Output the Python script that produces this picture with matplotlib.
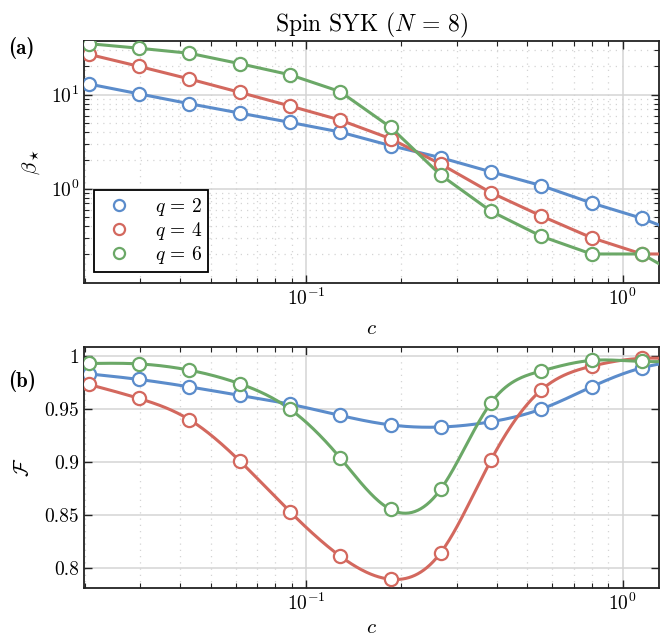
import numpy as np
import matplotlib
matplotlib.use("Agg")
import matplotlib.pyplot as plt
from matplotlib.lines import Line2D
from matplotlib.ticker import LogLocator, FixedLocator, FuncFormatter, NullFormatter

plt.rcParams['font.family'] = 'serif'
plt.rcParams['font.serif'] = ['cmr10', 'DejaVu Serif']
plt.rcParams['mathtext.fontset'] = 'cm'
plt.rcParams['axes.formatter.use_mathtext'] = True
plt.rcParams['axes.unicode_minus'] = False

# ---- data ----
c_vals = [0.0206, 0.0297, 0.0428, 0.0617, 0.0889, 0.128, 0.185, 0.266,
          0.384, 0.553, 0.797, 1.15, 1.65]
labels = [r'$q\,=\,2$', r'$q\,=\,4$', r'$q\,=\,6$']
colors = ['#5B8CCB', '#D3685E', '#6BA867']

beta_q2 = [13.0, 10.2, 8.02, 6.38, 5.08, 4.01, 2.87, 2.14, 1.51, 1.08, 0.705, 0.484, 0.30]
beta_q4 = [26.9, 20.0, 14.7, 10.6, 7.59, 5.38, 3.40, 1.83, 0.906, 0.513, 0.301, 0.202, 0.202]
beta_q6 = [34.9, 31.2, 27.6, 21.4, 16.3, 10.8, 4.50, 1.40, 0.575, 0.312, 0.202, 0.202, 0.101]

F_q2 = [0.9833, 0.978, 0.971, 0.963, 0.9546, 0.944, 0.935, 0.933, 0.938, 0.950, 0.971, 0.989, 0.997]
F_q4 = [0.9733, 0.960, 0.940, 0.901, 0.853, 0.811, 0.789, 0.814, 0.902, 0.968, 0.9905, 0.998, 0.996]
F_q6 = [0.9931, 0.9927, 0.9868, 0.974, 0.950, 0.904, 0.855, 0.874, 0.956, 0.986, 0.996, 0.995, 0.996]

beta_series = [beta_q2, beta_q4, beta_q6]
F_series = [F_q2, F_q4, F_q6]


def natural_spline(x, y, xq):
    x = np.asarray(x, float); y = np.asarray(y, float)
    n = len(x)
    h = np.diff(x)
    A = np.zeros((n, n)); r = np.zeros(n)
    A[0, 0] = 1; A[-1, -1] = 1
    for i in range(1, n - 1):
        A[i, i - 1] = h[i - 1]
        A[i, i] = 2 * (h[i - 1] + h[i])
        A[i, i + 1] = h[i]
        r[i] = 3 * ((y[i + 1] - y[i]) / h[i] - (y[i] - y[i - 1]) / h[i - 1])
    cc = np.linalg.solve(A, r)
    b = (y[1:] - y[:-1]) / h - h * (2 * cc[:-1] + cc[1:]) / 3
    d = (cc[1:] - cc[:-1]) / (3 * h)
    idx = np.clip(np.searchsorted(x, xq) - 1, 0, n - 2)
    dx = xq - x[idx]
    return y[idx] + b[idx] * dx + cc[idx] * dx ** 2 + d[idx] * dx ** 3


fig = plt.figure(figsize=(6.67, 6.40), dpi=100)
ax1 = fig.add_axes([0.126, 0.5583, 0.862, 0.3772])
ax2 = fig.add_axes([0.126, 0.0817, 0.862, 0.3766])

xlim = (0.0199, 1.302)
lw = 2.2
ms = 9.5
mew = 1.6

for ys, col in zip(beta_series, colors):
    ax1.plot(c_vals, ys, '-', color=col, lw=lw, zorder=3)
    ax1.plot(c_vals, ys, 'o', color=col, mfc='white', mec=col, ms=ms, mew=mew, zorder=4)

lx = np.log10(c_vals)
xq = np.linspace(lx[0], lx[-1], 600)
for ys, col in zip(F_series, colors):
    ax2.plot(10 ** xq, natural_spline(lx, ys, xq), '-', color=col, lw=lw, zorder=3)
    ax2.plot(c_vals, ys, 'o', color=col, mfc='white', mec=col, ms=ms, mew=mew, zorder=4)

for ax in (ax1, ax2):
    ax.set_xscale('log')
    ax.set_xlim(*xlim)
    ax.xaxis.set_major_locator(FixedLocator([0.1, 1.0]))
    ax.xaxis.set_major_formatter(FuncFormatter(
        lambda v, p: r'$10^{-1}$' if abs(v - 0.1) < 1e-9 else r'$10^{0}$'))
    ax.xaxis.set_minor_locator(LogLocator(base=10, subs=np.arange(2, 10)))
    ax.xaxis.set_minor_formatter(NullFormatter())
    ax.tick_params(which='both', direction='in', top=True, right=True,
                   labelsize=14, color='#222222')
    ax.tick_params(which='major', length=6, width=1.0)
    ax.tick_params(which='minor', length=3.5, width=0.8)
    ax.grid(True, which='major', color='#d4d4d4', lw=1.1, ls='-', zorder=0)
    for s in ax.spines.values():
        s.set_linewidth(1.3)
        s.set_color('#222222')
    ax.set_axisbelow(True)

ax1.set_xlabel(r'$c$', fontsize=15, labelpad=8)
ax2.set_xlabel(r'$c$', fontsize=15, labelpad=4)

ax1.set_yscale('log')
ax1.set_ylim(0.1, 37)
ax1.yaxis.set_major_locator(FixedLocator([1.0, 10.0]))
ax1.yaxis.set_major_formatter(FuncFormatter(
    lambda v, p: r'$10^{1}$' if v > 5 else r'$10^{0}$'))
ax1.yaxis.set_minor_locator(LogLocator(base=10, subs=np.arange(2, 10)))
ax1.yaxis.set_minor_formatter(NullFormatter())
ax1.grid(True, which='minor', color='#d4d4d4', lw=0.9, ls=(0, (1, 4)), zorder=0)
ax1.set_ylabel(r'$\beta_\star$', fontsize=15, labelpad=6)

ax2.set_ylim(0.781, 1.009)
ax2.yaxis.set_major_locator(FixedLocator([0.8, 0.85, 0.9, 0.95, 1.0]))
ax2.yaxis.set_major_formatter(FuncFormatter(lambda v, p: ('%g' % round(v, 2))))
ax2.grid(True, which='minor', axis='x', color='#d4d4d4', lw=0.9, ls=(0, (1, 4)), zorder=0)
ax2.set_ylabel(r'$\mathcal{F}$', fontsize=15, labelpad=8)

handles = [Line2D([], [], ls='none', marker='o', mfc='white', mec=col, ms=8, mew=1.6)
           for col in colors]
leg = ax1.legend(handles, labels, loc='lower left', fontsize=14, frameon=True,
                 fancybox=False, edgecolor='black', framealpha=1,
                 bbox_to_anchor=(0.018, 0.045), handletextpad=0.9, borderpad=0.3,
                 labelspacing=0.1, handlelength=1.9, borderaxespad=0.0)
leg.get_frame().set_linewidth(1.3)

ax1.set_title(r'Spin SYK ($N\,=\,8$)', fontsize=17, pad=7)
fig.text(0.012, 0.915, '(a)', fontsize=15, family='cmb10', fontweight='bold')
fig.text(0.012, 0.395, '(b)', fontsize=15, family='cmb10', fontweight='bold')

fig.savefig('out.png', dpi=100)
